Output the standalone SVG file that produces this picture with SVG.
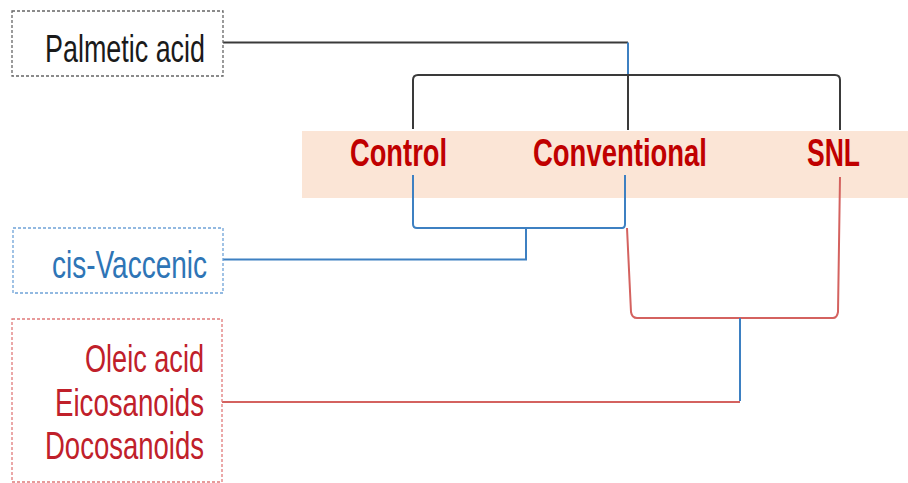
<svg xmlns="http://www.w3.org/2000/svg" width="908" height="483" viewBox="0 0 908 483">
<style>
.box{fill:#fff;stroke-width:1.3;stroke-dasharray:3 2}
.lbl{font-family:"Liberation Sans",Arial,sans-serif;font-size:39px;text-anchor:end}
.grp{font-family:"Liberation Sans",Arial,sans-serif;font-size:39px;font-weight:bold;fill:#c00000;text-anchor:middle}
.k{fill:none;stroke:#3a3a3a;stroke-width:2}
.b{fill:none;stroke:#3d80c2;stroke-width:2}
.r{fill:none;stroke:#d4625f;stroke-width:2}
</style>
<rect x="0" y="0" width="908" height="483" fill="#fff"/>
<g id="band">
<rect x="302" y="131" width="606" height="67" fill="#fbe5d6"/>
</g>
<g id="connectors">
<path class="k" d="M223 42.5 H628"/>
<path class="b" d="M628 42.5 V75" stroke-width="1.5"/>
<path class="k" d="M628 75 V130"/>
<path class="k" d="M413 129 V80 Q413 75 418 75 H835 Q840 75 840 80 V130"/>
<path class="b" d="M413 175 V224 Q413 228 417 228 H622 Q625 228 625 224 V175"/>
<path class="b" d="M526 228 V259.5 H223"/>
<path class="r" d="M627 228 L631 312 Q632 318 637 318 H833 Q837 318 838 312 L840 177"/>
<path class="b" d="M740 318 V401"/>
<path class="r" d="M222 402 H740"/>
</g>
<g id="palmetic">
<rect class="box" x="12" y="11" width="211" height="65" stroke="#666"/>
<text class="lbl" x="205" y="61.5" fill="#1a1a1a" textLength="160" lengthAdjust="spacingAndGlyphs">Palmetic acid</text>
</g>
<g id="control"><text class="grp" x="398.5" y="166" textLength="97" lengthAdjust="spacingAndGlyphs">Control</text></g>
<g id="conventional"><text class="grp" x="620" y="166" textLength="174" lengthAdjust="spacingAndGlyphs">Conventional</text></g>
<g id="snl"><text class="grp" x="833.5" y="166" textLength="53" lengthAdjust="spacingAndGlyphs">SNL</text></g>
<g id="cisvaccenic">
<rect class="box" x="13" y="228" width="210" height="65" stroke="#6fa3d8"/>
<text class="lbl" x="207" y="278" fill="#2e75b6" textLength="155" lengthAdjust="spacingAndGlyphs" font-size="41">cis-Vaccenic</text>
</g>
<g id="oleic">
<rect class="box" x="12" y="319" width="210" height="163" stroke="#e07a7a"/>
<text class="lbl" x="204" y="371.5" fill="#c0202a" textLength="119" lengthAdjust="spacingAndGlyphs">Oleic acid</text>
<text class="lbl" x="204" y="415.5" fill="#c0202a" textLength="149" lengthAdjust="spacingAndGlyphs">Eicosanoids</text>
<text class="lbl" x="204" y="459" fill="#c0202a" textLength="159" lengthAdjust="spacingAndGlyphs">Docosanoids</text>
</g>
</svg>
